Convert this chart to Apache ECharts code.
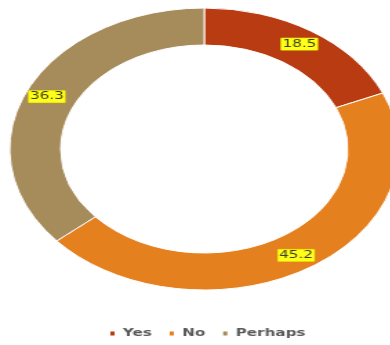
<!DOCTYPE html>
<html>
<head>
<meta charset="utf-8">
<script src="https://cdn.jsdelivr.net/npm/echarts@6/dist/echarts.min.js"></script>
<style>
  html, body { margin: 0; padding: 0; background: #ffffff; overflow: hidden; }
  #wrap { width: 390px; height: 345px; overflow: hidden; position: relative; }
  /* the chart is drawn narrow, then widened so the ring becomes an oval */
  #chart { width: 283px; height: 345px; transform: scaleX(1.38); transform-origin: 0 0; }
</style>
</head>
<body>
<div id="wrap"><div id="chart"></div></div>
<script>
const categories = ['Yes', 'No', 'Perhaps'];
const values = [18.5, 45.2, 36.3];
const colors = ['#b83b12', '#e5801f', '#a68b5b'];

const chart = echarts.init(document.getElementById('chart'), null, { renderer: 'canvas' });

chart.setOption({
  animation: false,
  color: colors,
  legend: {
    data: categories,
    bottom: 1,
    left: 73,
    icon: 'rect',
    itemWidth: 5,
    itemHeight: 6,
    itemGap: 11,
    textStyle: {
      fontFamily: 'DejaVu Sans',
      fontSize: 11,
      fontWeight: 'bold',
      color: '#595959'
    }
  },
  series: [{
    type: 'pie',
    center: [148, 149],
    radius: [104, 141],
    startAngle: 90,
    clockwise: true,
    avoidLabelOverlap: false,
    itemStyle: { borderColor: '#ffffff', borderWidth: 1 },
    label: {
      show: true,
      position: 'inside',
      formatter: p => p.value.toFixed(1),
      fontFamily: 'DejaVu Sans',
      fontSize: 11,
      color: '#3d3d1a',
      backgroundColor: '#ffff1a',
      borderColor: '#d6c400',
      borderWidth: 0.5,
      padding: [1, 1, 0, 1]
    },
    labelLine: { show: false },
    emphasis: { disabled: true },
    data: categories.map((c, i) => ({ name: c, value: values[i] }))
  }]
});
</script>
</body>
</html>
